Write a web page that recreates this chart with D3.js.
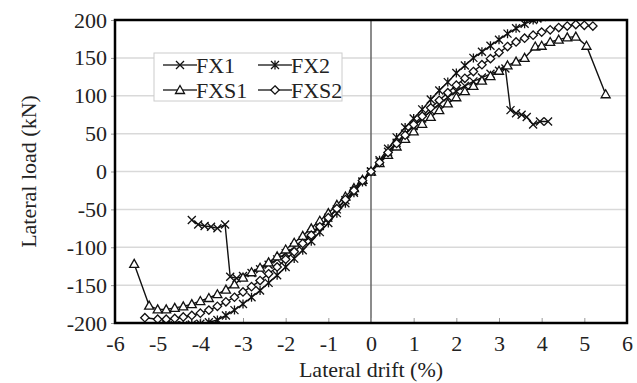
<!DOCTYPE html>
<html>
<head>
<meta charset="utf-8">
<script src="https://cdn.jsdelivr.net/npm/d3@7"></script>
<style>
  body { margin: 0; background: #fff; }
  text { font-family: "Times New Roman", "Liberation Serif", Tinos, Times, serif; fill: #222; }
</style>
</head>
<body>
<div id="chart"></div>
<script>
// data: drift (%) and lateral load (kN)
const fx1X = [-4.2, -4.05, -3.9, -3.75, -3.6, -3.42, -3.3, -3.15, -3.0, -2.8, -2.6, -2.4, -2.2, -2.0, -1.8, -1.6, -1.4, -1.2, -1.0, -0.8, -0.6, -0.4, -0.2, 0,
  0.2, 0.4, 0.6, 0.8, 1.0, 1.2, 1.4, 1.6, 1.8, 2.0, 2.2, 2.4, 2.6, 2.8, 3.0, 3.15, 3.27, 3.4, 3.53, 3.65, 3.8, 3.96, 4.15];
const fx1Y = [-64, -70, -72, -73, -75, -70, -139, -141, -138, -134, -129, -123, -116, -108, -100, -91, -82, -72, -61, -50, -38, -26, -13, 0,
  13, 26, 38, 50, 60, 70, 80, 89, 98, 106, 113, 119, 124, 129, 133, 136, 81, 77, 75, 72, 62, 66, 66];

const fx2X = [-4.8, -4.6, -4.4, -4.2, -4.0, -3.8, -3.6, -3.4, -3.2, -3.0, -2.8, -2.6, -2.4, -2.2, -2.0, -1.8, -1.6, -1.4, -1.2, -1.0, -0.8, -0.6, -0.4, -0.2, 0,
  0.2, 0.4, 0.6, 0.8, 1.0, 1.2, 1.4, 1.6, 1.8, 2.0, 2.2, 2.4, 2.6, 2.8, 3.0, 3.2, 3.4, 3.6, 3.8, 3.9, 4.0];
const fx2Y = [-202, -203, -203, -202, -201, -199, -196, -190, -183, -175, -166, -157, -147, -137, -126, -115, -104, -92, -80, -68, -55, -42, -28, -14, 0,
  15, 30, 45, 58, 70, 82, 95, 107, 118, 130, 140, 150, 158, 166, 174, 182, 189, 195, 200, 202, 204];

const fxs1X = [-5.55, -5.2, -5.0, -4.8, -4.6, -4.4, -4.2, -4.0, -3.8, -3.6, -3.4, -3.2, -3.0, -2.8, -2.6, -2.4, -2.2, -2.0, -1.8, -1.6, -1.4, -1.2, -1.0, -0.8, -0.6, -0.4, -0.2, 0,
  0.2, 0.4, 0.6, 0.8, 1.0, 1.2, 1.4, 1.6, 1.8, 2.0, 2.2, 2.4, 2.6, 2.8, 3.0, 3.2, 3.4, 3.6, 3.85, 4.0, 4.2, 4.4, 4.6, 4.8, 5.05, 5.5];
const fxs1Y = [-122, -177, -182, -182, -180, -178, -175, -171, -167, -162, -156, -149, -140, -133, -127, -120, -112, -103, -94, -85, -75, -65, -55, -44, -33, -22, -11, 0,
  11, 22, 33, 43, 53, 63, 72, 81, 90, 98, 106, 113, 120, 126, 133, 140, 145, 150, 165, 166, 171, 174, 177, 178, 166, 102];

const fxs2X = [-5.3, -5.0, -4.8, -4.6, -4.4, -4.2, -4.0, -3.8, -3.6, -3.4, -3.2, -3.0, -2.8, -2.6, -2.4, -2.2, -2.0, -1.8, -1.6, -1.4, -1.2, -1.0, -0.8, -0.6, -0.4, -0.2, 0,
  0.2, 0.4, 0.6, 0.8, 1.0, 1.2, 1.4, 1.6, 1.8, 2.0, 2.2, 2.4, 2.6, 2.8, 3.0, 3.2, 3.4, 3.6, 3.8, 4.0, 4.2, 4.4, 4.6, 4.8, 5.0, 5.2];
const fxs2Y = [-193, -195, -195, -194, -192, -190, -187, -183, -178, -172, -166, -159, -152, -144, -135, -126, -116, -106, -95, -84, -73, -61, -49, -37, -25, -12, 0,
  12, 25, 37, 48, 62, 73, 84, 94, 104, 114, 123, 132, 141, 149, 157, 165, 171, 176, 180, 184, 187, 190, 192, 194, 193, 192];

const seriesNames = ["FX1", "FX2", "FXS1", "FXS2"];
const xTicks = [-6, -5, -4, -3, -2, -1, 0, 1, 2, 3, 4, 5, 6];
const yTicks = [-200, -150, -100, -50, 0, 50, 100, 150, 200];

const series = [
  { name: "FX1", xs: fx1X, ys: fx1Y, mark: "x" },
  { name: "FX2", xs: fx2X, ys: fx2Y, mark: "star" },
  { name: "FXS1", xs: fxs1X, ys: fxs1Y, mark: "tri" },
  { name: "FXS2", xs: fxs2X, ys: fxs2Y, mark: "dia" }
];

// set the dimensions and margins of the graph
const margin = { top: 20, right: 10, bottom: 60, left: 115 },
  width = 637 - margin.left - margin.right,
  height = 383 - margin.top - margin.bottom;

const root = d3.select("#chart")
  .append("svg")
  .attr("width", 637)
  .attr("height", 383);

const svg = root.append("g")
  .attr("transform", `translate(${margin.left},${margin.top})`);

const x = d3.scaleLinear().domain([-6, 6]).range([0, width]);
const y = d3.scaleLinear().domain([-200, 200]).range([height, 0]);

// horizontal grid
svg.append("g")
  .selectAll("line")
  .data(yTicks.filter(t => t > -200 && t < 200))
  .join("line")
  .attr("x1", 0).attr("x2", width)
  .attr("y1", d => y(d)).attr("y2", d => y(d))
  .attr("stroke", "#d9d9d9")
  .attr("stroke-width", 1.5);

// vertical line at zero drift
svg.append("line")
  .attr("x1", x(0)).attr("x2", x(0))
  .attr("y1", 0).attr("y2", height)
  .attr("stroke", "#666")
  .attr("stroke-width", 1.5);

// y axis
const yAxis = svg.append("g")
  .call(d3.axisLeft(y).tickValues(yTicks).tickFormat(d => String(d)).tickSize(4).tickPadding(4));
yAxis.select(".domain").remove();
yAxis.selectAll("line").attr("stroke", "#999");
yAxis.selectAll("text").attr("font-size", 22).attr("fill", "#222");

// x axis, ticks pointing in
const xAxis = svg.append("g")
  .attr("transform", `translate(0,${height})`)
  .call(d3.axisBottom(x).tickValues(xTicks).tickFormat(d => String(d)).tickSize(-5).tickPadding(12));
xAxis.select(".domain").remove();
xAxis.selectAll("line").attr("stroke", "#999");
xAxis.selectAll("text").attr("font-size", 22).attr("fill", "#222");

// clip for the curves
root.append("defs").append("clipPath").attr("id", "plotclip")
  .append("rect").attr("x", 0).attr("y", 0).attr("width", width).attr("height", height);

const line = d3.line().x(d => x(d[0])).y(d => y(d[1]));

const markPath = {
  x: "M-4,-4L4,4M-4,4L4,-4",
  star: "M-4,-4L4,4M-4,4L4,-4M0,-4.5L0,4.5",
  tri: "M0,-4.5L4.5,3.5L-4.5,3.5Z",
  dia: "M0,-4.2L4.2,0L0,4.2L-4.2,0Z"
};

function drawMarks(g, mark) {
  g.append("path")
    .attr("d", markPath[mark])
    .attr("fill", mark === "tri" || mark === "dia" ? "#fff" : "none")
    .attr("stroke", "#111")
    .attr("stroke-width", 1.3);
}

const plot = svg.append("g").attr("clip-path", "url(#plotclip)");

series.forEach(s => {
  const pts = s.xs.map((v, i) => [v, s.ys[i]]);
  plot.append("path")
    .datum(pts)
    .attr("d", line)
    .attr("fill", "none")
    .attr("stroke", "#111")
    .attr("stroke-width", 1.4);
  plot.append("g")
    .selectAll("g")
    .data(pts)
    .join("g")
    .attr("transform", d => `translate(${x(d[0])},${y(d[1])})`)
    .each(function () { drawMarks(d3.select(this), s.mark); });
});

// plot border
svg.append("rect")
  .attr("x", 0).attr("y", 0)
  .attr("width", width).attr("height", height)
  .attr("fill", "none")
  .attr("stroke", "#000")
  .attr("stroke-width", 2.5);

// legend
const legend = root.append("g").attr("transform", "translate(154,53)");
legend.append("rect")
  .attr("width", 188).attr("height", 48)
  .attr("fill", "#fff")
  .attr("stroke", "#ccc");

const legPos = [[9, 12], [104, 12], [9, 37], [104, 37]];
series.forEach((s, i) => {
  const [lx, ly] = legPos[i];
  const g = legend.append("g").attr("transform", `translate(${lx},${ly})`);
  g.append("line").attr("x1", 0).attr("x2", 34).attr("y1", 0).attr("y2", 0)
    .attr("stroke", "#333").attr("stroke-width", 1.5);
  drawMarks(g.append("g").attr("transform", "translate(17,0)"), s.mark);
  g.append("text")
    .attr("x", 33).attr("y", 7.5)
    .attr("font-size", 22)
    .text(seriesNames[i]);
});

// axis titles
root.append("text")
  .attr("x", margin.left + width / 2).attr("y", 377)
  .attr("text-anchor", "middle")
  .attr("font-size", 22)
  .text("Lateral drift (%)");

root.append("text")
  .attr("transform", `translate(36,${margin.top + height / 2}) rotate(-90)`)
  .attr("text-anchor", "middle")
  .attr("font-size", 22)
  .text("Lateral load (kN)");
</script>
</body>
</html>
